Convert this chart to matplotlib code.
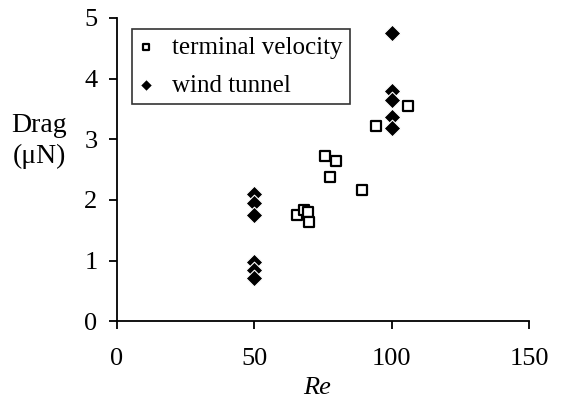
import matplotlib
matplotlib.use("Agg")
import matplotlib.pyplot as plt

plt.rcParams['font.family'] = ['Liberation Serif', 'DejaVu Serif']

tv_re = [106.0, 94.3, 75.7, 79.8, 77.5, 89.2, 65.4, 68.2, 69.5, 70.0]
tv_drag = [3.55, 3.22, 2.72, 2.64, 2.38, 2.17, 1.75, 1.84, 1.80, 1.64]

wt_re = [50, 50, 50, 50, 50, 50, 100, 100, 100, 100, 100]
wt_drag = [2.10, 1.95, 1.76, 0.98, 0.85, 0.72, 4.75, 3.80, 3.65, 3.36, 3.18]

xticks = [0, 50, 100, 150]
yticks = [0, 1, 2, 3, 4, 5]

fig = plt.figure(figsize=(5.61, 4.04), dpi=100)
ax = fig.add_axes([0.2084, 0.2045, 0.7348, 0.7512])

ax.scatter(tv_re, tv_drag, marker='s', s=45, facecolor='white', edgecolor='black',
           linewidths=1.6, label='terminal velocity', zorder=3)
ax.scatter(wt_re, wt_drag, marker='D', s=72, facecolor='black', edgecolor='white',
           linewidths=0.8, label='wind tunnel', zorder=3)

ax.set_xlim(0, 150)
ax.set_ylim(0, 5)
ax.set_xticks(xticks)
ax.set_yticks(yticks)
for s in ['top', 'right']:
    ax.spines[s].set_visible(False)
for s in ['left', 'bottom']:
    ax.spines[s].set_linewidth(1.3)
ax.tick_params(direction='out', length=6, width=1.3, labelsize=19)
ax.tick_params(axis='x', pad=13)
ax.tick_params(axis='y', pad=8)

fig.text(317 / 561, 1 - 388 / 404, 'Re', fontsize=19, style='italic',
         ha='center', va='center')
fig.text(39 / 561, 1 - 141 / 404, 'Drag\n(μN)', fontsize=20, ha='center', va='center',
         linespacing=1.3)

leg = ax.legend(loc='upper left', bbox_to_anchor=(0.0366, 0.9634), borderaxespad=0,
                fontsize=18, frameon=True, fancybox=False, edgecolor='black',
                handletextpad=0.75, borderpad=0.3, labelspacing=0.6,
                handlelength=0.55, scatterpoints=1, markerscale=0.72)
leg.get_frame().set_linewidth(1.2)

fig.savefig('out.png', dpi=100, facecolor='white')
